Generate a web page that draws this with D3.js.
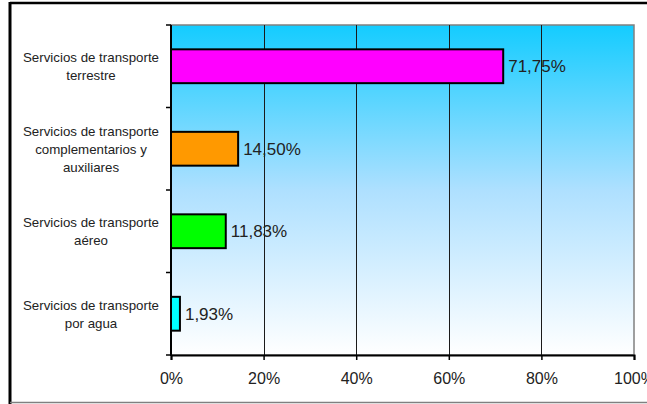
<!DOCTYPE html>
<html><head><meta charset="utf-8">
<script src="https://cdn.jsdelivr.net/npm/d3@7"></script>
<style>html,body{margin:0;padding:0;background:#fff;}svg{display:block;}</style>
</head><body>
<svg id="chart" width="647" height="404"></svg>
<script>
const categories = [
  ["Servicios de transporte", "terrestre"],
  ["Servicios de transporte", "complementarios y", "auxiliares"],
  ["Servicios de transporte", "aéreo"],
  ["Servicios de transporte", "por agua"]
];
const values = [71.75, 14.50, 11.83, 1.93];
const valueLabels = ["71,75%", "14,50%", "11,83%", "1,93%"];
const barColors = ["#ff00ff", "#ff9900", "#00ff00", "#00ffff"];
const xTicks = [0, 20, 40, 60, 80, 100];

const svg = d3.select("#chart");
const font = "Liberation Sans, Arial, sans-serif";
const m = {left: 171, right: 634, top: 25, bottom: 355};

// outer frame
svg.append("line").attr("x1", 10).attr("x2", 647).attr("y1", 3).attr("y2", 3).attr("stroke", "#000").attr("stroke-width", 2.5);
svg.append("line").attr("x1", 10).attr("x2", 10).attr("y1", 2).attr("y2", 404).attr("stroke", "#000").attr("stroke-width", 3);
svg.append("line").attr("x1", 10).attr("x2", 647).attr("y1", 402.5).attr("y2", 402.5).attr("stroke", "#808080").attr("stroke-width", 1.5);

const defs = svg.append("defs");
const grad = defs.append("linearGradient").attr("id", "bg").attr("x1", 0).attr("y1", 0).attr("x2", 0).attr("y2", 1);
grad.append("stop").attr("offset", "0%").attr("stop-color", "#14ccff");
grad.append("stop").attr("offset", "50%").attr("stop-color", "#aee0ff");
grad.append("stop").attr("offset", "100%").attr("stop-color", "#ffffff");

const x = d3.scaleLinear().domain([0, 100]).range([m.left, m.right]);
const y = d3.scaleBand().domain(d3.range(categories.length)).range([m.top, m.bottom]).paddingInner(0.59).paddingOuter(0.295);
const yOuter = d3.scaleBand().domain(d3.range(categories.length)).range([m.top, m.bottom]);

svg.append("rect").attr("x", m.left).attr("y", m.top).attr("width", m.right - m.left).attr("height", m.bottom - m.top)
  .attr("fill", "url(#bg)").attr("stroke", "#808080").attr("stroke-width", 1.5);

// gridlines
svg.append("g").selectAll("line").data(xTicks.slice(1, -1)).join("line")
  .attr("x1", d => Math.round(x(d)) + 0.5).attr("x2", d => Math.round(x(d)) + 0.5)
  .attr("y1", m.top).attr("y2", m.bottom).attr("stroke", "#1a1a1a").attr("stroke-width", 1);

// bars
svg.append("g").selectAll("rect").data(values).join("rect")
  .attr("x", x(0)).attr("y", (d, i) => y(i))
  .attr("width", d => x(d) - x(0)).attr("height", y.bandwidth())
  .attr("fill", (d, i) => barColors[i]).attr("stroke", "#000").attr("stroke-width", 2);

// value labels
svg.append("g").selectAll("text").data(values).join("text")
  .attr("x", d => x(d) + 5).attr("y", (d, i) => y(i) + y.bandwidth() / 2)
  .attr("dy", "0.36em").attr("font-family", font).attr("font-size", 17).attr("fill", "#222")
  .text((d, i) => valueLabels[i]);

// x axis
const xAxis = d3.axisBottom(x).tickValues(xTicks).tickFormat(d => d + "%").tickSize(5).tickPadding(13);
const gx = svg.append("g").attr("transform", `translate(0,${m.bottom})`).call(xAxis);
gx.select(".domain").attr("stroke", "#000").attr("stroke-width", 2);
gx.selectAll(".tick line").attr("stroke", "#000").attr("stroke-width", 1.5);
gx.selectAll(".tick text").attr("font-family", font).attr("font-size", 16).attr("fill", "#222");

// y axis line and ticks at band boundaries
svg.append("line").attr("x1", m.left).attr("x2", m.left).attr("y1", m.top).attr("y2", m.bottom + 1)
  .attr("stroke", "#000").attr("stroke-width", 2);
svg.append("g").selectAll("line").data(d3.range(categories.length + 1)).join("line")
  .attr("x1", m.left - 5).attr("x2", m.left)
  .attr("y1", i => i < categories.length ? yOuter(i) : m.bottom)
  .attr("y2", i => i < categories.length ? yOuter(i) : m.bottom)
  .attr("stroke", "#000").attr("stroke-width", 1.5);

// category labels
const lh = 18;
svg.append("g").selectAll("text").data(categories).join("text")
  .attr("font-family", font).attr("font-size", 13.3).attr("fill", "#222").attr("text-anchor", "middle")
  .each(function(lines, i) {
    const cy = y(i) + y.bandwidth() / 2;
    const start = cy - (lines.length - 1) * lh / 2;
    d3.select(this).selectAll("tspan").data(lines).join("tspan")
      .attr("x", 91).attr("y", (l, j) => start + j * lh).attr("dy", "0.36em").text(l => l);
  });
</script>
</body></html>
